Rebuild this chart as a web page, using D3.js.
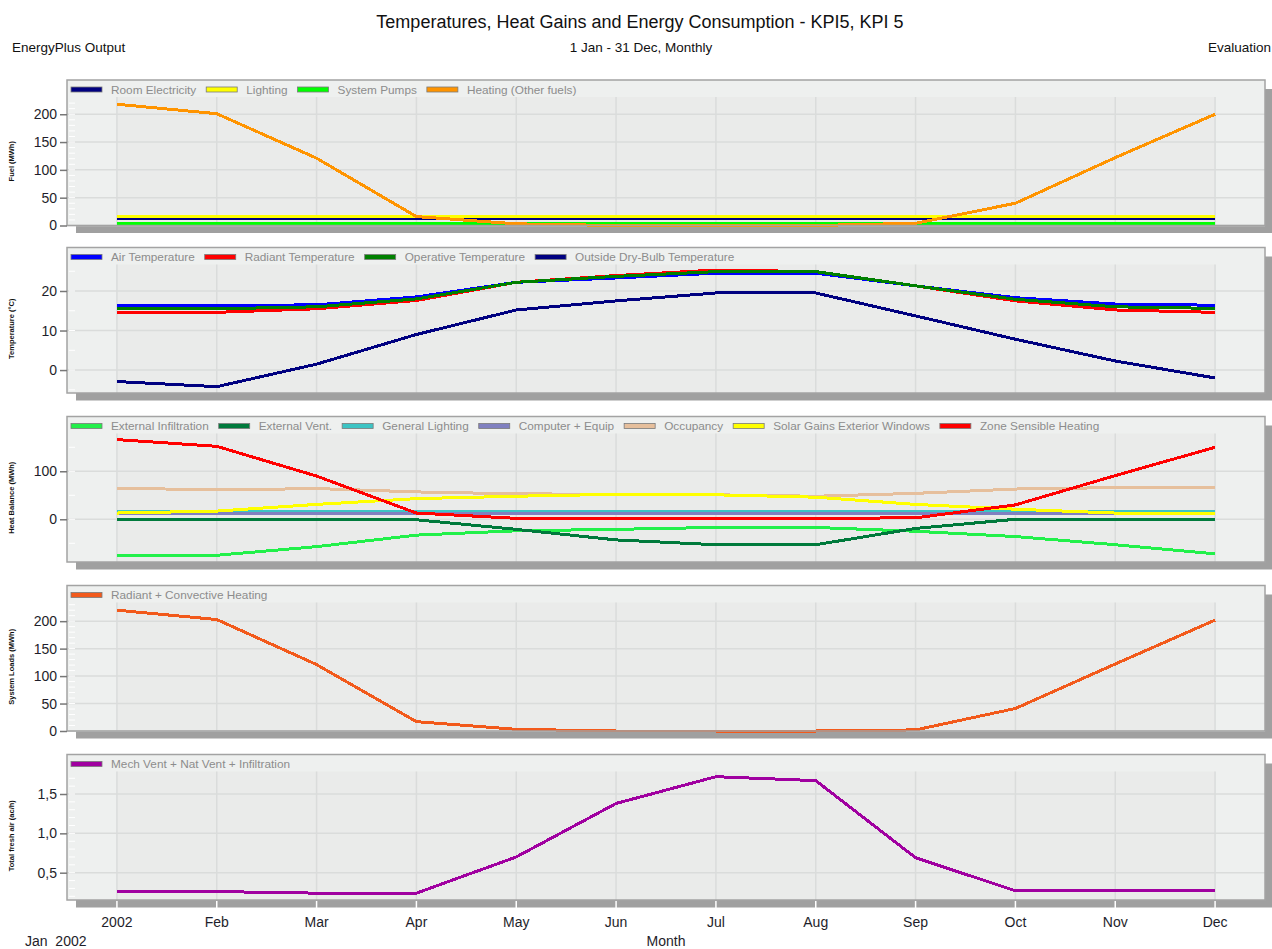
<!DOCTYPE html>
<html>
<head>
<meta charset="utf-8">
<script src="https://cdn.jsdelivr.net/npm/d3@7"></script>
<style>
  body { margin: 0; background: #fff; }
  svg { display: block; font-family: "Liberation Sans", Arial, sans-serif; }
</style>
</head>
<body>
<svg id="chart" width="1272" height="949"></svg>
<script>
// ---- Data: monthly values, Jan..Dec 2002 ----
const months = ["2002", "Feb", "Mar", "Apr", "May", "Jun", "Jul", "Aug", "Sep", "Oct", "Nov", "Dec"];

// Fuel (MWh)
const roomElectricity   = [12, 12, 12, 12, 12, 12, 12, 12, 12, 12, 12, 12];
const lighting          = [16, 16, 16, 16, 16, 16, 16, 16, 16, 16, 16, 16];
const systemPumps       = [4, 4, 4, 4, 4, 4, 4, 4, 4, 4, 4, 4];
const heatingOtherFuels = [218, 201, 121, 16, 3, 0, 0, 0, 4, 40, 122, 200];

// Temperature (°C)
const airTemperature       = [16.3, 16.3, 16.5, 18.5, 22.2, 23.3, 24.5, 24.5, 21.3, 18.3, 16.7, 16.4];
const radiantTemperature   = [14.6, 14.6, 15.5, 17.6, 22.2, 23.9, 25.3, 24.9, 21.3, 17.5, 15.2, 14.6];
const operativeTemperature = [15.5, 15.5, 16.0, 18.0, 22.2, 23.7, 24.9, 24.9, 21.3, 17.9, 16.0, 15.6];
const outsideDryBulb       = [-2.9, -4.2, 1.5, 9.0, 15.2, 17.5, 19.5, 19.5, 13.7, 7.8, 2.3, -2.0];

// Heat Balance (MWh)
const externalInfiltration = [-75, -75, -57, -33, -24, -21, -17, -17, -25, -36, -53, -72];
const externalVent         = [0, 0, 0, -1, -21, -43, -53, -53, -19, 0, 0, 0];
const generalLighting      = [17, 17, 17, 17, 17, 17, 17, 17, 17, 17, 17, 17];
const computerEquip        = [12, 12, 12, 12, 12, 12, 12, 12, 12, 12, 12, 12];
const occupancy            = [65, 61, 64, 57, 53, 52, 51, 48, 54, 63, 66, 67];
const solarGainsWindows    = [13, 17, 31, 43, 48, 52, 51, 46, 31, 21, 13, 12];
const zoneSensibleHeating  = [166, 152, 90, 13, 2, 2, 2, 2, 3, 30, 91, 150];

// System Loads (MWh)
const radiantConvectiveHeating = [220, 203, 121, 17, 3, 0, 0, 0, 2, 41, 122, 202];

// Total fresh air (ac/h)
const totalFreshAir = [0.26, 0.26, 0.24, 0.24, 0.70, 1.38, 1.72, 1.67, 0.69, 0.27, 0.27, 0.27];

// ---- Panel definitions ----
const panels = [
  {
    title: "Fuel (MWh)", domain: [0, 231], ticks: [0, 50, 100, 150, 200], minor: 10,
    series: [
      { name: "Room Electricity", color: "#000080", values: roomElectricity },
      { name: "Lighting", color: "#ffff00", values: lighting },
      { name: "System Pumps", color: "#00ff00", values: systemPumps },
      { name: "Heating (Other fuels)", color: "#ff9400", values: heatingOtherFuels }
    ]
  },
  {
    title: "Temperature (°C)", domain: [-5.8, 26.7], ticks: [0, 10, 20], minor: 5,
    series: [
      { name: "Air Temperature", color: "#0000ff", values: airTemperature },
      { name: "Radiant Temperature", color: "#ff0000", values: radiantTemperature },
      { name: "Operative Temperature", color: "#008000", values: operativeTemperature },
      { name: "Outside Dry-Bulb Temperature", color: "#000080", values: outsideDryBulb }
    ]
  },
  {
    title: "Heat Balance (MWh)", domain: [-89, 178.7], ticks: [0, 100], minor: 50,
    series: [
      { name: "External Infiltration", color: "#22f04a", values: externalInfiltration },
      { name: "External Vent.", color: "#007a3c", values: externalVent },
      { name: "General Lighting", color: "#3cc4c4", values: generalLighting },
      { name: "Computer + Equip", color: "#8080c0", values: computerEquip },
      { name: "Occupancy", color: "#e6bf9c", values: occupancy },
      { name: "Solar Gains Exterior Windows", color: "#ffff00", values: solarGainsWindows },
      { name: "Zone Sensible Heating", color: "#ff0000", values: zoneSensibleHeating }
    ]
  },
  {
    title: "System Loads (MWh)", domain: [0, 234], ticks: [0, 50, 100, 150, 200], minor: 10,
    series: [
      { name: "Radiant + Convective Heating", color: "#f25a1c", values: radiantConvectiveHeating }
    ]
  },
  {
    title: "Total fresh air (ac/h)", domain: [0.153, 1.786], ticks: [0.5, 1.0, 1.5], minor: 0.1,
    comma: true,
    series: [
      { name: "Mech Vent + Nat Vent + Infiltration", color: "#a000a0", values: totalFreshAir }
    ]
  }
];

// ---- Layout ----
const svg = d3.select("#chart");
const frameLeft = 67, frameRight = 1265;
const panelTops = [80, 247.5, 416.5, 585.5, 754.5];
const frameH = 145.5, stripH = 17;

const x = d3.scaleLinear().domain([-0.5, 11.5]).range([frameLeft, frameRight]);
const monthIdx = d3.range(months.length);

// Titles
svg.append("text").attr("x", 640).attr("y", 28).attr("text-anchor", "middle")
  .attr("font-size", 18).attr("fill", "#111")
  .text("Temperatures, Heat Gains and Energy Consumption - KPI5, KPI 5");
svg.append("text").attr("x", 12).attr("y", 52).attr("font-size", 13.5).attr("fill", "#111")
  .text("EnergyPlus Output");
svg.append("text").attr("x", 641).attr("y", 52).attr("text-anchor", "middle")
  .attr("font-size", 13.5).attr("fill", "#111").text("1 Jan - 31 Dec, Monthly");
svg.append("text").attr("x", 1271).attr("y", 52).attr("text-anchor", "end")
  .attr("font-size", 13.5).attr("fill", "#111").text("Evaluation");

panels.forEach((p, i) => {
  const top = panelTops[i];
  const bottom = top + frameH;
  const plotTop = top + stripH;
  const y = d3.scaleLinear().domain(p.domain).range([bottom, plotTop]);
  const g = svg.append("g");

  // drop shadow
  g.append("rect").attr("x", frameLeft + 9).attr("y", top + 9)
    .attr("width", frameRight - frameLeft + 1.5).attr("height", frameH - 1.5)
    .attr("fill", "#a0a0a0");

  // frame background
  g.append("rect").attr("x", frameLeft).attr("y", top)
    .attr("width", frameRight - frameLeft).attr("height", frameH)
    .attr("fill", "#eef0ef");
  // plot background (data span slightly darker)
  g.append("rect").attr("x", x(0)).attr("y", plotTop)
    .attr("width", x(11) - x(0)).attr("height", bottom - plotTop)
    .attr("fill", "#eaebea");

  // grid
  g.selectAll(".hgrid").data(p.ticks).join("line")
    .attr("x1", frameLeft).attr("x2", frameRight)
    .attr("y1", d => y(d)).attr("y2", d => y(d))
    .attr("stroke", "#dadcdb").attr("stroke-width", 1.5);
  g.selectAll(".vgrid").data(monthIdx).join("line")
    .attr("x1", d => x(d)).attr("x2", d => x(d))
    .attr("y1", plotTop).attr("y2", bottom)
    .attr("stroke", "#dadcdb").attr("stroke-width", 1.5);

  // minor ticks (white, inside the frame)
  const [d0, d1] = p.domain;
  const minorVals = d3.range(Math.ceil(d0 / p.minor) * p.minor, d1, p.minor)
    .filter(v => y(v) > plotTop + 2 && y(v) < bottom - 2);
  g.selectAll(".minor").data(minorVals).join("line")
    .attr("x1", frameLeft + 2).attr("x2", frameLeft + 8)
    .attr("y1", d => y(d)).attr("y2", d => y(d))
    .attr("stroke", "#ffffff").attr("stroke-width", 1);

  // series lines
  const line = d3.line().x((d, j) => x(j)).y(d => y(d));
  p.series.forEach(s => {
    g.append("path").datum(s.values).attr("d", line)
      .attr("fill", "none").attr("stroke", s.color).attr("stroke-width", 3)
      .attr("stroke-linejoin", "round")
      .attr("shape-rendering", "crispEdges");
  });

  // frame border
  g.append("rect").attr("x", frameLeft).attr("y", top)
    .attr("width", frameRight - frameLeft).attr("height", frameH)
    .attr("fill", "none").attr("stroke", "#a3a3a3").attr("stroke-width", 1.5);

  // y axis ticks and labels
  const fmt = p.comma ? (v => d3.format(".1f")(v).replace(".", ",")) : d3.format("d");
  const axis = d3.axisLeft(y).tickValues(p.ticks).tickFormat(fmt).tickSize(7).tickPadding(3);
  const ag = svg.append("g").attr("transform", `translate(${frameLeft},0)`).call(axis);
  ag.select(".domain").remove();
  ag.selectAll(".tick line").attr("stroke", "#777").attr("stroke-width", 1.5);
  ag.selectAll(".tick text").attr("font-size", 14).attr("fill", "#1e1e2a")
    .attr("font-family", "'Liberation Sans', Arial, sans-serif");

  // y axis title
  svg.append("text")
    .attr("transform", `translate(14,${(plotTop + bottom) / 2}) rotate(-90)`)
    .attr("text-anchor", "middle").attr("font-size", 7.5).attr("font-weight", "bold")
    .attr("fill", "#111").text(p.title);

  // legend
  let lx = 71;
  const ly = top + 9.5;
  p.series.forEach(s => {
    g.append("rect").attr("x", lx).attr("y", ly - 2.5).attr("width", 31).attr("height", 5)
      .attr("fill", s.color).attr("stroke", "#7a7a7a").attr("stroke-width", 0.8);
    const t = g.append("text").attr("x", lx + 40).attr("y", ly + 4)
      .attr("font-size", 11.8).attr("fill", "#8c8c8c").text(s.name);
    lx = lx + 40 + t.node().getComputedTextLength() + 10;
  });

  // bottom x axis on the last panel
  if (i === panels.length - 1) {
    svg.selectAll(".xtick").data(monthIdx).join("line")
      .attr("x1", d => x(d)).attr("x2", d => x(d))
      .attr("y1", bottom + 1).attr("y2", bottom + 8.5)
      .attr("stroke", "#ffffff").attr("stroke-width", 1.5);
    svg.selectAll(".xlabel").data(monthIdx).join("text")
      .attr("x", d => x(d)).attr("y", bottom + 27)
      .attr("text-anchor", "middle").attr("font-size", 14).attr("fill", "#1e1e2a")
      .text(d => months[d]);
  }
});

svg.append("text").attr("x", 25).attr("y", 946).attr("font-size", 14).attr("fill", "#1e1e2a")
  .style("white-space", "pre").text("Jan  2002");
svg.append("text").attr("x", 666).attr("y", 946).attr("text-anchor", "middle")
  .attr("font-size", 14).attr("fill", "#1e1e2a").text("Month");
</script>
</body>
</html>
